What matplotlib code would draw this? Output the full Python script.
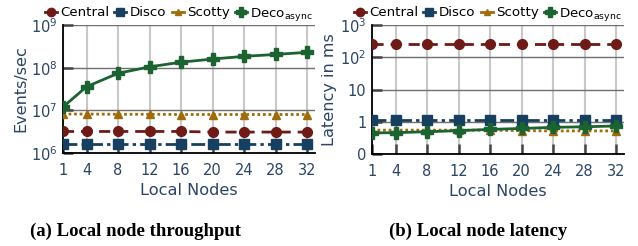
import matplotlib
matplotlib.use('Agg')
import matplotlib.pyplot as plt
from matplotlib.lines import Line2D

nodes = [1, 4, 8, 12, 16, 20, 24, 28, 32]

# throughput (events/sec)
tp_central = [3.2e6, 3.2e6, 3.2e6, 3.2e6, 3.2e6, 3.1e6, 3.1e6, 3.1e6, 3.1e6]
tp_disco = [1.65e6, 1.65e6, 1.65e6, 1.65e6, 1.65e6, 1.65e6, 1.65e6, 1.65e6, 1.65e6]
tp_scotty = [8.2e6, 8.2e6, 8.1e6, 8.1e6, 8.0e6, 8.0e6, 8.0e6, 8.0e6, 8.0e6]
tp_deco = [1.2e7, 3.6e7, 7.4e7, 1.05e8, 1.35e8, 1.6e8, 1.85e8, 2.05e8, 2.3e8]

# latency (ms)
lat_central = [255, 255, 255, 255, 255, 255, 255, 255, 255]
lat_disco = [1.1, 1.1, 1.1, 1.1, 1.1, 1.1, 1.1, 1.1, 1.1]
lat_scotty = [0.55, 0.55, 0.55, 0.55, 0.55, 0.53, 0.52, 0.52, 0.52]
lat_deco = [0.45, 0.46, 0.49, 0.53, 0.58, 0.62, 0.67, 0.70, 0.74]

names = ['Central', 'Disco', 'Scotty', r'Deco$_{\mathregular{async}}$']
colors = ['#6e1a17', '#173f5f', '#a06b0a', '#1c6332']
markers = ['o', 's', '^', 'P']
msizes = [7, 7, 5.5, 8]
styles = [(0, (4, 2.5)), (0, (5, 1.5, 1.2, 1.5)), (0, (1, 1)), '-']

txt = '#2c4466'
plt.rcParams['font.family'] = 'DejaVu Sans'

fig = plt.figure(figsize=(6.38, 2.46), dpi=100)
ax1 = fig.add_axes([0.0987, 0.378, 0.395, 0.52])
ax2 = fig.add_axes([0.583, 0.374, 0.395, 0.524])


def style_axis(ax):
    ax.set_yscale('log')
    ax.set_xlim(1, 33)
    ax.set_xticks(nodes)
    ax.set_xticklabels([str(n) for n in nodes])
    ax.minorticks_off()
    ax.grid(axis='x', color='#c8c8c8', lw=1.5, zorder=0)
    ax.grid(axis='y', color='#707070', lw=1.0, zorder=0)
    ax.tick_params(direction='in', length=7, width=1.8, color='#444444',
                   labelcolor=txt, labelsize=10.5)
    ax.tick_params(axis='x', pad=7)
    ax.tick_params(axis='y', pad=4)
    for s in ['top', 'right']:
        ax.spines[s].set_visible(False)
    for s in ['left', 'bottom']:
        ax.spines[s].set_color('black')
        ax.spines[s].set_linewidth(1.3)
    ax.set_xlabel('Local Nodes', color=txt, fontsize=11.6, labelpad=4)


def draw(ax, series):
    for vals, c, m, ms, ls in zip(series, colors, markers, msizes, styles):
        ax.plot(nodes, vals, color=c, marker=m, markersize=ms, lw=2, ls=ls,
                zorder=3)


style_axis(ax1)
draw(ax1, [tp_central, tp_disco, tp_scotty, tp_deco])
ax1.set_ylim(1e6, 1e9)
ax1.set_yticks([1e6, 1e7, 1e8, 1e9])
ax1.set_yticklabels(['$\\mathregular{10^6}$', '$\\mathregular{10^7}$',
                     '$\\mathregular{10^8}$', '$\\mathregular{10^9}$'])
ax1.set_ylabel('Events/sec', color=txt, fontsize=11.6, labelpad=2)

style_axis(ax2)
draw(ax2, [lat_central, lat_disco, lat_scotty, lat_deco])
ax2.set_ylim(0.1, 1000)
ax2.set_yticks([0.1, 1, 10, 100, 1000])
ax2.set_yticklabels(['0', '1', '10', '$\\mathregular{10^2}$', '$\\mathregular{10^3}$'])
ax2.set_ylabel('Latency in ms', color=txt, fontsize=11.6, labelpad=2)

handles = [Line2D([], [], color=c, marker=m, markersize=ms - 1, lw=2, ls='-')
           for c, m, ms in zip(colors, markers, msizes)]
for ax in (ax1, ax2):
    ax.legend(handles, names, loc='lower center', bbox_to_anchor=(0.46, 1.02),
              ncol=4, frameon=False, fontsize=9.6, handlelength=0.9,
              handletextpad=0.25, columnspacing=0.4, borderaxespad=0,
              borderpad=0)

fig.text(0.212, 0.061, '(a) Local node throughput', ha='center', va='center',
         fontsize=13.5, fontweight='bold', family='Liberation Serif')
fig.text(0.749, 0.061, '(b) Local node latency', ha='center', va='center',
         fontsize=13.5, fontweight='bold', family='Liberation Serif')

fig.savefig('out.png', dpi=100)
